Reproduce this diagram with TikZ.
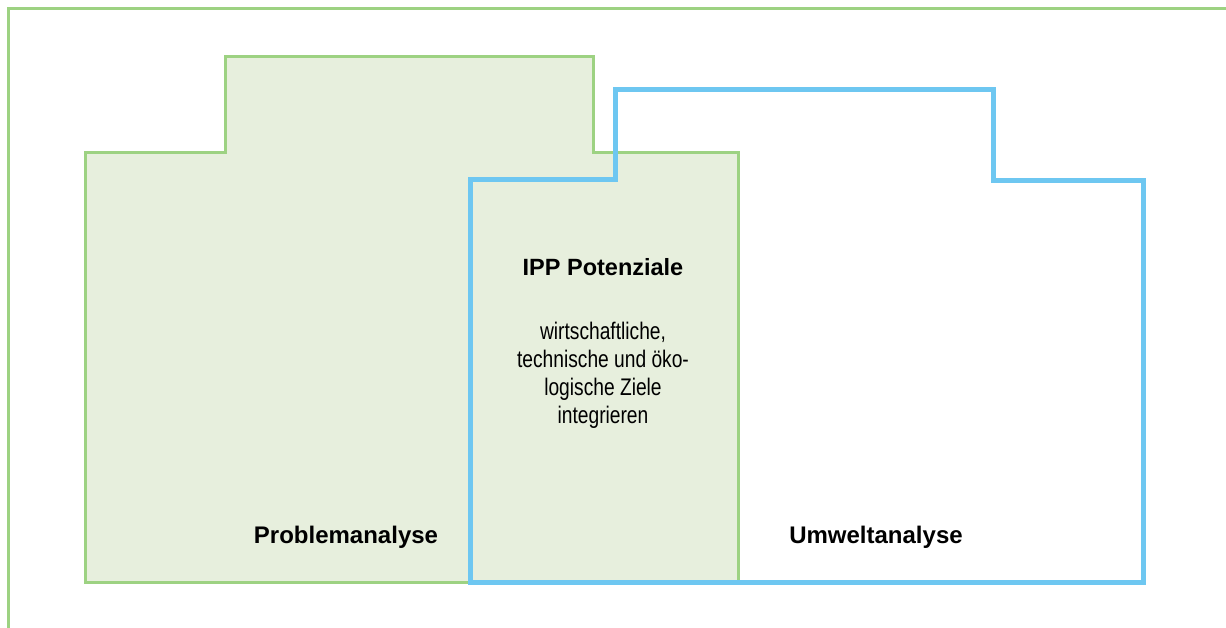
\documentclass[tikz,border=0pt]{standalone}
\usepackage{fontspec}
\setmainfont{Liberation Sans}
\newfontfamily\narrowfont[FakeStretch=0.8]{Liberation Sans}
\definecolor{framegreen}{HTML}{9DD282}
\definecolor{fillgreen}{HTML}{E7EFDD}
\definecolor{lineblue}{HTML}{6EC7F1}

\begin{document}
\begin{tikzpicture}[x=1pt,y=-1pt,
  greenline/.style={draw=framegreen, line width=3pt},
  blueline/.style={draw=lineblue, line width=5pt},
  areatitle/.style={font=\fontsize{24}{28}\selectfont\bfseries, inner sep=0pt, anchor=base},
  areabody/.style={font=\narrowfont\fontsize{24}{28}\selectfont, align=center, inner sep=0pt, anchor=base}]
  \useasboundingbox (0,0) rectangle (1226,628);
  % outer frame
  \draw[greenline] (8,628) -- (8,9) -- (1226,9);
  % Problemanalyse
  \draw[greenline, fill=fillgreen] (85,582) -- (85,153) -- (225,153) -- (225,57) -- (593,57)
    -- (593,153) -- (738,153) -- (738,582) -- cycle;
  % Umweltanalyse
  \draw[blueline] (470,582) -- (470,180) -- (615,180) -- (615,90) -- (993,90)
    -- (993,181) -- (1143,181) -- (1143,582) -- cycle;
  \node[areatitle, font=\fontsize{23.5}{28}\selectfont\bfseries] (ipp) at (603,276) {IPP Potenziale};
  \node[areabody] (ziele) at (603,423) {wirtschaftliche,\\technische und öko-\\logische Ziele\\integrieren};
  \node[areatitle] (problem) at (346,543) {Problemanalyse};
  \node[areatitle] (umwelt) at (876,543) {Umweltanalyse};
\end{tikzpicture}
\end{document}
